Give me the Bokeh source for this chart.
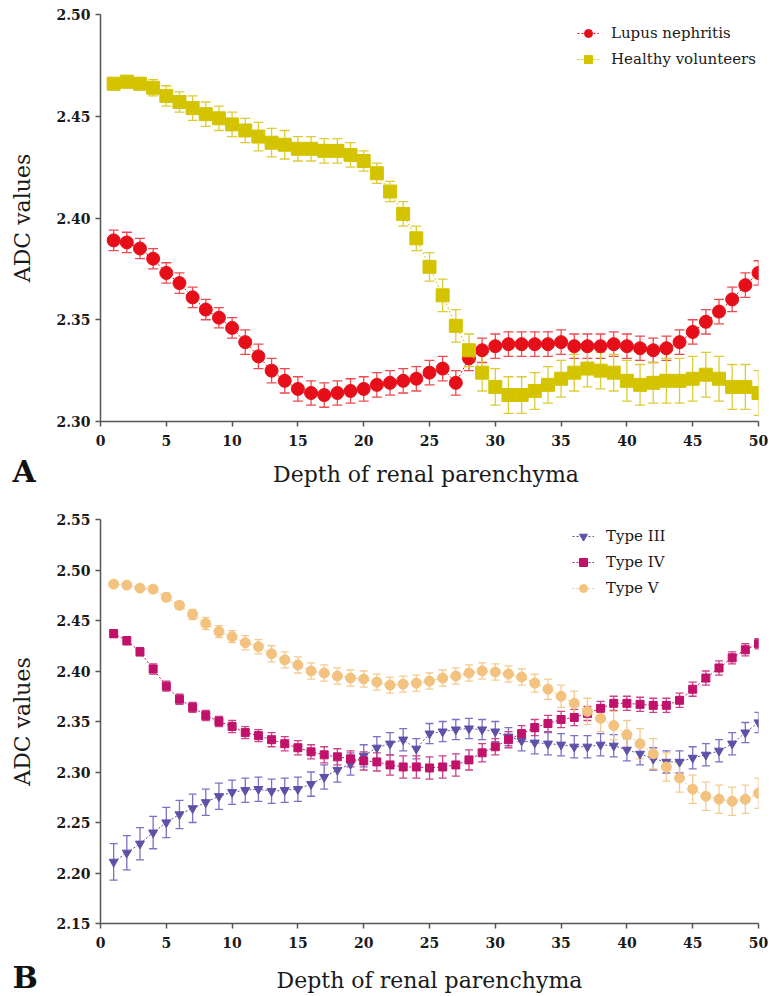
from bokeh.plotting import figure
from bokeh.layouts import column
from bokeh.models import (Whisker, TeeHead, ColumnDataSource, Legend, LegendItem,
                          Title, Range1d, FixedTicker, PrintfTickFormatter)
from bokeh.embed import file_html
from bokeh.resources import INLINE

depth = list(range(1, 51))

lupus = [2.389, 2.388, 2.385, 2.380, 2.373, 2.368, 2.361, 2.355, 2.351, 2.346,
         2.339, 2.332, 2.325, 2.320, 2.316, 2.314, 2.313, 2.314, 2.315, 2.316,
         2.318, 2.319, 2.320, 2.321, 2.324, 2.326, 2.319, 2.331, 2.335, 2.337,
         2.338, 2.338, 2.338, 2.338, 2.339, 2.337, 2.337, 2.337, 2.338, 2.337,
         2.336, 2.335, 2.336, 2.339, 2.344, 2.349, 2.354, 2.360, 2.367, 2.373]
lupus_err = [0.005] * 10 + [0.006] * 40

healthy = [2.466, 2.467, 2.466, 2.464, 2.460, 2.457, 2.454, 2.451, 2.449, 2.446,
           2.443, 2.440, 2.437, 2.436, 2.434, 2.434, 2.433, 2.433, 2.431, 2.428,
           2.422, 2.413, 2.402, 2.390, 2.376, 2.362, 2.347, 2.335, 2.324, 2.317,
           2.313, 2.313, 2.315, 2.318, 2.321, 2.324, 2.326, 2.325, 2.324, 2.320,
           2.318, 2.319, 2.320, 2.320, 2.321, 2.323, 2.321, 2.317, 2.317, 2.314]
healthy_err = [0.003, 0.003, 0.003, 0.004, 0.005, 0.005, 0.006, 0.006, 0.006, 0.006,
               0.006, 0.007, 0.007, 0.007, 0.006, 0.006, 0.006, 0.006, 0.006, 0.005,
               0.005, 0.005, 0.006, 0.006, 0.007, 0.008, 0.008, 0.008, 0.009, 0.009,
               0.009, 0.009, 0.009, 0.009, 0.009, 0.009, 0.009, 0.009, 0.009, 0.010,
               0.010, 0.010, 0.011, 0.011, 0.011, 0.011, 0.011, 0.011, 0.011, 0.011]

type3 = [2.211, 2.220, 2.229, 2.240, 2.250, 2.258, 2.264, 2.270, 2.276, 2.280,
         2.282, 2.283, 2.281, 2.282, 2.283, 2.288, 2.295, 2.302, 2.308, 2.316,
         2.324, 2.328, 2.332, 2.323, 2.338, 2.340, 2.342, 2.343, 2.342, 2.340,
         2.335, 2.331, 2.329, 2.328, 2.327, 2.325, 2.325, 2.327, 2.326, 2.322,
         2.318, 2.313, 2.310, 2.310, 2.314, 2.317, 2.321, 2.328, 2.339, 2.349]
type3_err = [0.018, 0.017, 0.016, 0.016, 0.015, 0.014, 0.014, 0.013, 0.013, 0.012,
             0.012, 0.012, 0.012, 0.012, 0.012, 0.012, 0.012, 0.012, 0.011, 0.011,
             0.011, 0.011, 0.011, 0.010, 0.010, 0.010, 0.010, 0.010, 0.010, 0.010,
             0.009, 0.010, 0.011, 0.011, 0.011, 0.011, 0.011, 0.011, 0.011, 0.011,
             0.011, 0.011, 0.011, 0.011, 0.011, 0.011, 0.011, 0.011, 0.010, 0.010]

type4 = [2.437, 2.430, 2.419, 2.402, 2.385, 2.372, 2.364, 2.356, 2.350, 2.345,
         2.339, 2.336, 2.332, 2.328, 2.324, 2.320, 2.317, 2.315, 2.313, 2.311,
         2.310, 2.307, 2.305, 2.305, 2.304, 2.305, 2.307, 2.312, 2.319, 2.325,
         2.332, 2.338, 2.344, 2.348, 2.352, 2.354, 2.358, 2.363, 2.368, 2.368,
         2.367, 2.366, 2.366, 2.371, 2.382, 2.393, 2.403, 2.413, 2.421, 2.427]
type4_err = [0.004, 0.004, 0.004, 0.005, 0.005, 0.005, 0.005, 0.005, 0.005, 0.006,
             0.006, 0.006, 0.007, 0.007, 0.007, 0.007, 0.008, 0.008, 0.008, 0.009,
             0.009, 0.010, 0.011, 0.011, 0.011, 0.011, 0.011, 0.010, 0.009, 0.008,
             0.008, 0.008, 0.008, 0.008, 0.008, 0.008, 0.007, 0.007, 0.007, 0.007,
             0.007, 0.007, 0.007, 0.007, 0.007, 0.007, 0.007, 0.006, 0.006, 0.005]

type5 = [2.486, 2.485, 2.482, 2.481, 2.473, 2.465, 2.456, 2.447, 2.439, 2.434,
         2.428, 2.424, 2.417, 2.411, 2.406, 2.400, 2.398, 2.395, 2.393, 2.392,
         2.389, 2.386, 2.387, 2.388, 2.390, 2.393, 2.395, 2.398, 2.400, 2.399,
         2.397, 2.394, 2.388, 2.382, 2.375, 2.368, 2.360, 2.353, 2.346, 2.337,
         2.328, 2.318, 2.305, 2.294, 2.283, 2.276, 2.273, 2.271, 2.273, 2.279]
type5_err = [0.002, 0.002, 0.002, 0.003, 0.004, 0.004, 0.005, 0.006, 0.006, 0.006,
             0.007, 0.007, 0.008, 0.008, 0.008, 0.008, 0.008, 0.008, 0.008, 0.008,
             0.008, 0.008, 0.008, 0.008, 0.008, 0.008, 0.008, 0.008, 0.008, 0.008,
             0.008, 0.008, 0.009, 0.010, 0.011, 0.012, 0.013, 0.013, 0.014, 0.014,
             0.015, 0.015, 0.014, 0.014, 0.014, 0.014, 0.014, 0.014, 0.014, 0.015]

x_ticks = [0, 5, 10, 15, 20, 25, 30, 35, 40, 45, 50]
yA_ticks = [2.30, 2.35, 2.40, 2.45, 2.50]
yB_ticks = [2.15, 2.20, 2.25, 2.30, 2.35, 2.40, 2.45, 2.50, 2.55]

SERIF = "DejaVu Serif"


def style(p, yticks, xlabel, xlabel_standoff):
    p.outline_line_color = None
    p.xgrid.visible = False
    p.ygrid.visible = False
    p.xaxis.ticker = FixedTicker(ticks=x_ticks)
    p.yaxis.ticker = FixedTicker(ticks=yticks)
    p.yaxis.formatter = PrintfTickFormatter(format="%.2f")
    for ax in (p.xaxis[0], p.yaxis[0]):
        ax.axis_line_color = "#555555"
        ax.axis_line_width = 1.5
        ax.major_tick_line_color = "#555555"
        ax.major_tick_line_width = 1.5
        ax.major_tick_in = 0
        ax.major_tick_out = 5
        ax.minor_tick_line_color = None
        ax.major_label_text_font = SERIF
        ax.major_label_text_font_style = "bold"
        ax.major_label_text_font_size = "14px"
        ax.major_label_text_color = "#1a1a1a"
        ax.axis_label_text_font = SERIF
        ax.axis_label_text_font_style = "normal"
        ax.axis_label_text_font_size = "22px"
        ax.axis_label_text_color = "#1a1a1a"
    p.xaxis.major_label_standoff = 8
    p.xaxis.axis_label_standoff = xlabel_standoff
    p.xaxis.axis_label = xlabel
    p.yaxis.major_label_standoff = 5
    p.yaxis.axis_label_standoff = 18
    p.yaxis.axis_label = "ADC values"


def series(p, y, err, color, err_color, marker, size, cap):
    src = ColumnDataSource(dict(x=depth, y=y,
                                lo=[a - b for a, b in zip(y, err)],
                                hi=[a + b for a, b in zip(y, err)]))
    w = Whisker(source=src, base="x", lower="lo", upper="hi",
                line_color=err_color, line_width=1.3, level="underlay",
                upper_head=TeeHead(size=cap, line_color=err_color, line_width=1.3),
                lower_head=TeeHead(size=cap, line_color=err_color, line_width=1.3))
    p.add_layout(w)
    ln = p.line("x", "y", source=src, line_color=color, line_width=1.0,
                line_dash="2 2")
    sc = p.scatter("x", "y", source=src, marker=marker, size=size,
                   fill_color=color, line_color=color)
    return [ln, sc]


def panel_letter(p, letter):
    t = Title(text=letter, align="left", offset=-88, standoff=-72,
              vertical_align="top", text_font=SERIF, text_font_style="bold",
              text_font_size="30px", text_color="#111111")
    p.add_layout(t, "below")


# ---------------- Panel A ----------------
pA = figure(width=773, height=496, x_range=Range1d(0, 50), y_range=Range1d(2.30, 2.50),
            output_backend="svg", toolbar_location=None,
            min_border_left=100, min_border_right=15, min_border_top=14,
            min_border_bottom=75)
style(pA, yA_ticks, "Depth of  renal parenchyma", 13)
rl = series(pA, lupus, lupus_err, "#e60f19", "#ee4b50", "circle", 13, 10)
rh = series(pA, healthy, healthy_err, "#d4c400", "#dccd35", "square", 13, 10)
legA = Legend(items=[LegendItem(label="Lupus nephritis", renderers=rl),
                     LegendItem(label="Healthy volunteers", renderers=rh)],
              location=(477, 352))
pA.add_layout(legA)
panel_letter(pA, "A")

# ---------------- Panel B ----------------
pB = figure(width=773, height=500, x_range=Range1d(0, 50), y_range=Range1d(2.15, 2.55),
            output_backend="svg", toolbar_location=None,
            min_border_left=100, min_border_right=15, min_border_top=23,
            min_border_bottom=73)
style(pB, yB_ticks, "Depth of renal parenchyma", 17)
r3 = series(pB, type3, type3_err, "#5d51a8", "#7c71c2", "inverted_triangle", 9, 8)
r4 = series(pB, type4, type4_err, "#c0126b", "#cc4188", "square", 8, 8)
r5 = series(pB, type5, type5_err, "#f2c27e", "#f4cb8f", "circle", 10, 8)
legB = Legend(items=[LegendItem(label="Type III", renderers=r3),
                     LegendItem(label="Type IV", renderers=r4),
                     LegendItem(label="Type V", renderers=r5)],
              location=(472, 325))
pB.add_layout(legB)
panel_letter(pB, "B")

for leg in (legA, legB):
    leg.border_line_color = None
    leg.background_fill_alpha = 0
    leg.label_text_font = SERIF
    leg.label_text_font_size = "15px"
    leg.label_text_color = "#1a1a1a"
    leg.glyph_width = 22
    leg.glyph_height = 20
    leg.label_height = 20
    leg.spacing = 6
    leg.padding = 0
    leg.margin = 0
    leg.label_standoff = 12

layout = column(pA, pB, spacing=0)
open("out.html", "w").write(file_html(layout, INLINE))
